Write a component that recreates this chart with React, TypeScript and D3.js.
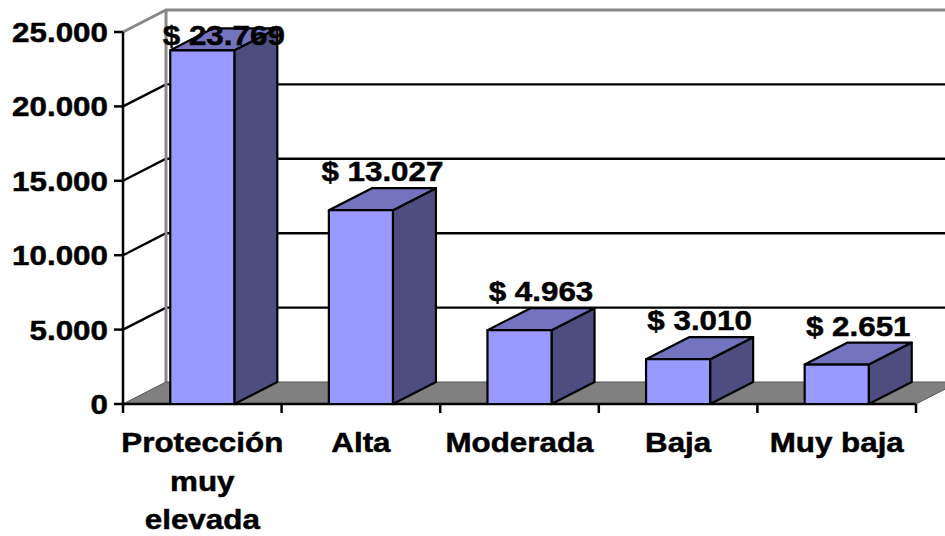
import React, { useEffect, useRef } from "react";
import * as d3 from "d3";

const categories = ["Protección muy elevada", "Alta", "Moderada", "Baja", "Muy baja"];
const values = [23769, 13027, 4963, 3010, 2651];
const tickValues = [0, 5000, 10000, 15000, 20000, 25000];

const W = 945;
const H = 536;

export default function App() {
  const ref = useRef<SVGSVGElement>(null);

  useEffect(() => {
    const svg = d3.select(ref.current);
    svg.selectAll("*").remove();

    const locale = d3.formatLocale({
      decimal: ",",
      thousands: ".",
      grouping: [3],
      currency: ["$ ", ""],
    });
    const fmtTick = locale.format(",.0f");
    const fmtVal = locale.format("$,.0f");

    const x0 = 123, x1 = 916;
    const y = d3.scaleLinear().domain([0, 25000]).range([404, 32]);
    const x = d3
      .scaleBand<string>()
      .domain(categories)
      .range([x0, x1])
      .paddingInner(0.596)
      .paddingOuter(0.298);
    const step = x.step();
    const bw = x.bandwidth();
    const dx = 43, dy = -22;
    const font = "'Liberation Sans', Arial, sans-serif";
    const sx = 1.12;
    const fs = 28;
    const txtStroke = 0.5;

    const pts = (p: number[][]) => p.map((q) => q.join(",")).join(" ");

    // Back wall
    svg
      .append("polygon")
      .attr("points", pts([[x0 + dx, y(25000) + dy], [W + 20, y(25000) + dy], [W + 20, y(0) + dy], [x0 + dx, y(0) + dy]]))
      .attr("fill", "#fff");
    // Left wall
    svg
      .append("polygon")
      .attr("points", pts([[x0, y(25000)], [x0 + dx, y(25000) + dy], [x0 + dx, y(0) + dy], [x0, y(0)]]))
      .attr("fill", "#fff");

    // Gridlines
    tickValues.filter((t) => t > 0 && t < 25000).forEach((t) => {
      svg
        .append("polyline")
        .attr("points", pts([[x0, y(t)], [x0 + dx, y(t) + dy], [W + 20, y(t) + dy]]))
        .attr("fill", "none")
        .attr("stroke", "#000")
        .attr("stroke-width", 2.4);
    });
    // Top edges gray
    svg
      .append("polyline")
      .attr("points", pts([[x0, y(25000)], [x0 + dx, y(25000) + dy], [W + 20, y(25000) + dy]]))
      .attr("fill", "none")
      .attr("stroke", "#888")
      .attr("stroke-width", 3);
    svg
      .append("line")
      .attr("x1", x0 + dx)
      .attr("x2", x0 + dx)
      .attr("y1", y(25000) + dy)
      .attr("y2", y(0) + dy)
      .attr("stroke", "#888")
      .attr("stroke-width", 3);

    // Floor
    svg
      .append("polygon")
      .attr("points", pts([[x0, y(0)], [x1, y(0)], [x1 + dx, y(0) + dy], [x0 + dx, y(0) + dy]]))
      .attr("fill", "#808080")
      .attr("stroke", "#555")
      .attr("stroke-width", 1);

    // Y axis
    svg
      .append("line")
      .attr("x1", x0)
      .attr("x2", x0)
      .attr("y1", y(25000))
      .attr("y2", y(0) + 1)
      .attr("stroke", "#000")
      .attr("stroke-width", 2.5);
    tickValues.forEach((t) => {
      svg
        .append("line")
        .attr("x1", x0 - 9)
        .attr("x2", x0)
        .attr("y1", y(t))
        .attr("y2", y(t))
        .attr("stroke", "#000")
        .attr("stroke-width", 2.5);
      svg
        .append("text")
        .attr("transform", `translate(${x0 - 15},${y(t)}) scale(${sx},1)`)
        .attr("dy", "0.36em")
        .attr("text-anchor", "end")
        .attr("font-family", font)
        .attr("font-weight", "bold")
        .attr("font-size", fs)
        .attr("stroke", "#000")
        .attr("stroke-width", txtStroke)
        .text(fmtTick(t));
    });

    // X axis
    svg
      .append("line")
      .attr("x1", x0)
      .attr("x2", x1)
      .attr("y1", y(0))
      .attr("y2", y(0))
      .attr("stroke", "#000")
      .attr("stroke-width", 2.5);
    d3.range(categories.length + 1).forEach((i) => {
      const tx = x0 + i * step;
      svg
        .append("line")
        .attr("x1", tx)
        .attr("x2", tx)
        .attr("y1", y(0))
        .attr("y2", y(0) + 9)
        .attr("stroke", "#000")
        .attr("stroke-width", 2.5);
    });

    // Bars
    categories.forEach((c, i) => {
      const v = values[i];
      const bx = x(c)!;
      const top = y(v);
      const bot = y(0);
      const g = svg.append("g").attr("stroke", "#000").attr("stroke-width", 2.2).attr("stroke-linejoin", "round");
      g.append("polygon")
        .attr("points", pts([[bx + bw, top], [bx + bw + dx, top + dy], [bx + bw + dx, bot + dy], [bx + bw, bot]]))
        .attr("fill", "#4d4d80");
      g.append("polygon")
        .attr("points", pts([[bx, top], [bx + dx, top + dy], [bx + bw + dx, top + dy], [bx + bw, top]]))
        .attr("fill", "#7373bf");
      g.append("rect")
        .attr("x", bx)
        .attr("y", top)
        .attr("width", bw)
        .attr("height", bot - top)
        .attr("fill", "#9999ff");
    });

    // Data labels
    categories.forEach((c, i) => {
      const v = values[i];
      const cx = x(c)! + bw / 2 + dx / 2;
      const by = Math.max(y(v) + dy - 7, 45);
      svg
        .append("text")
        .attr("transform", `translate(${cx},${by}) scale(${sx},1)`)
        .attr("text-anchor", "middle")
        .attr("font-family", font)
        .attr("font-weight", "bold")
        .attr("font-size", fs)
        .attr("fill", "#000")
        .attr("stroke", "#000")
        .attr("stroke-width", txtStroke)
        .text(fmtVal(v));
    });

    // Category labels with wrapping
    categories.forEach((c) => {
      const cx = x(c)! + bw / 2;
      const words = c.split(" ");
      const lines: string[] = [];
      let cur = "";
      const probe = svg
        .append("text")
        .attr("font-family", font)
        .attr("font-weight", "bold")
        .attr("font-size", fs);
      words.forEach((w) => {
        const test = cur ? cur + " " + w : w;
        probe.text(test);
        const len = (probe.node() as SVGTextElement).getComputedTextLength() * sx;
        if (len > step && cur) {
          lines.push(cur);
          cur = w;
        } else cur = test;
      });
      if (cur) lines.push(cur);
      probe.remove();
      lines.forEach((l, j) => {
        svg
          .append("text")
          .attr("transform", `translate(${cx},${452 + j * 38.5}) scale(${sx},1)`)
          .attr("text-anchor", "middle")
          .attr("font-family", font)
          .attr("font-weight", "bold")
          .attr("font-size", fs)
          .attr("stroke", "#000")
          .attr("stroke-width", txtStroke)
          .text(l);
      });
    });
  }, []);

  return (
    <div style={{ position: "fixed", left: 0, top: 0, width: W, height: H, background: "#fff" }}>
      <svg ref={ref} width={W} height={H} style={{ display: "block" }} />
    </div>
  );
}
